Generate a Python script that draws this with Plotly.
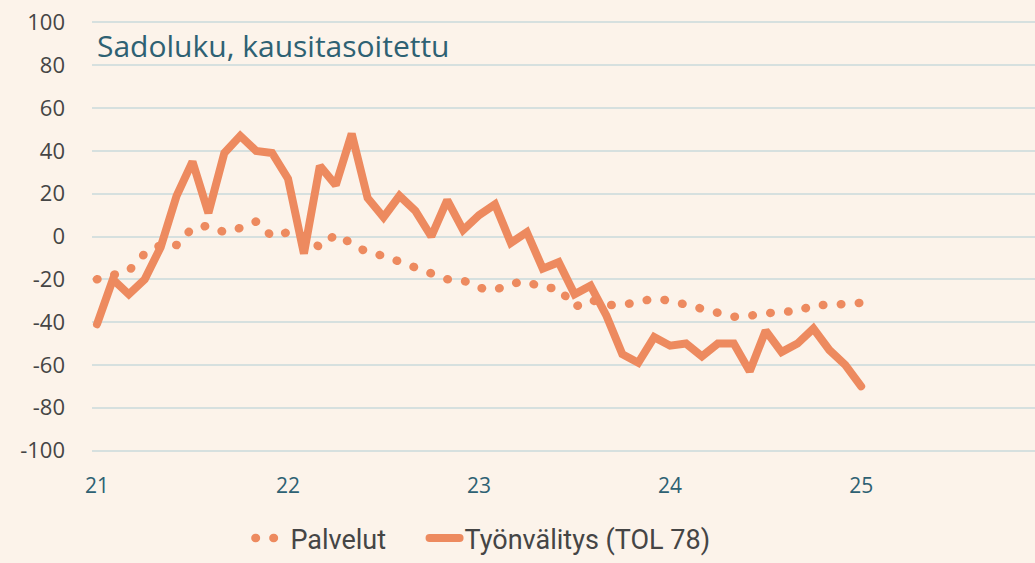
import plotly.graph_objects as go

# Monthly observations, Jan 2021 .. Jan 2025
months = [21 + i / 12 for i in range(49)]

palvelut = [
    -20, -18, -16, -8, -4, -4, 4, 5, 2, 4,
    7, 0, 2, 0, -5, 1, -3, -7.5, -9, -11.5,
    -14, -17, -20, -20.5, -24, -25, -22, -21, -24, -24,
    -33, -29.5, -32, -32, -31, -29, -30, -32, -34, -36.5,
    -37.5, -37, -35.5, -35, -35, -32, -32, -31.5, -31,
]

tyonvalitys = [
    -41, -20, -27, -20, -5, 19, 35, 11, 39, 47,
    40, 39, 27, -8, 33, 24, 48, 18, 9, 19,
    12, 0, 17, 3, 10, 15, -3, 2, -15, -12,
    -27, -23, -37, -55, -59, -47, -51, -50, -56, -50,
    -50, -63, -44, -54, -50, -43, -53, -60, -70,
]

x_ticks = [21, 22, 23, 24, 25]
x_tick_labels = ["21", "22", "23", "24", "25"]
y_ticks = [-100, -80, -60, -40, -20, 0, 20, 40, 60, 80, 100]
y_tick_labels = [str(v) for v in y_ticks]

LINE_COLOR = "#ed8a5f"
BG = "#fcf3ea"
GRID = "#d6e0df"
TEAL = "#2e6173"
GRAY = "#454545"

fig = go.Figure()
fig.add_trace(
    go.Scatter(
        x=months,
        y=palvelut,
        mode="lines",
        # trailing no-break spaces widen the gap to the next legend entry
        name="Palvelut" + "\u00a0" * 5,
        line={"color": LINE_COLOR, "width": 8.5, "dash": "0.5px,17.5px"},
    )
)
fig.add_trace(
    go.Scatter(
        x=months,
        y=tyonvalitys,
        mode="lines",
        name="Työnvälitys (TOL 78)",
        line={"color": LINE_COLOR, "width": 8},
    )
)

fig.add_annotation(
    x=0.003,
    y=89,
    xref="paper",
    yref="y",
    text="Sadoluku, kausitasoitettu",
    showarrow=False,
    xanchor="left",
    yanchor="middle",
    font={"family": "Open Sans", "size": 30, "color": TEAL},
)

fig.update_layout(
    width=1035,
    height=563,
    paper_bgcolor=BG,
    plot_bgcolor=BG,
    margin={"l": 92, "r": 0, "t": 16, "b": 100},
    showlegend=True,
    legend={
        "orientation": "h",
        "x": 0.168,
        "xanchor": "left",
        "y": -0.13,
        "yanchor": "top",
        "font": {"family": "Roboto", "size": 27, "color": GRAY},
        "bgcolor": "rgba(0,0,0,0)",
    },
    xaxis={
        "range": [20.974, 25.91],
        "tickvals": x_ticks,
        "ticktext": x_tick_labels,
        "showgrid": False,
        "zeroline": False,
        "showline": False,
        "ticklabelstandoff": 14,
        "tickfont": {"family": "Open Sans", "size": 21, "color": TEAL},
    },
    yaxis={
        "range": [-103, 103],
        "tickvals": y_ticks,
        "ticktext": y_tick_labels,
        "showgrid": True,
        "gridcolor": GRID,
        "gridwidth": 2,
        "zeroline": False,
        "showline": False,
        "ticklabelstandoff": 26,
        "tickfont": {"family": "Open Sans", "size": 22, "color": GRAY},
    },
)

post = """
document.body.style.margin = '0';
var gd = document.getElementById('{plot_id}');
gd.querySelectorAll('path.js-line').forEach(function(p){ p.style.strokeLinecap = 'round'; });
"""
fig.write_html("out.html", post_script=post, config={"displayModeBar": False})
